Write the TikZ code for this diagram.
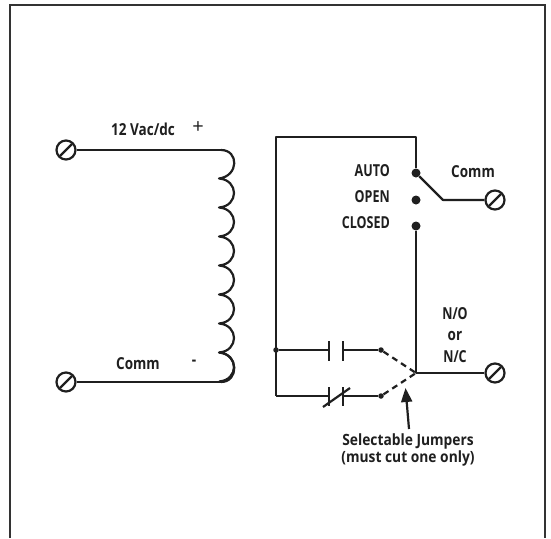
\documentclass[tikz,border=0pt]{standalone}
\usepackage{fontspec}
\usetikzlibrary{arrows.meta,calc}
\newfontfamily\labcaps[FakeStretch=0.76,BoldFont={Open Sans Bold}]{Open Sans}
\newfontfamily\labmix[FakeStretch=0.82,BoldFont={Open Sans Bold}]{Open Sans}
\newfontfamily\labnote[FakeStretch=0.89,BoldFont={Open Sans Bold}]{Open Sans}
\newfontfamily\plain{Open Sans}
\colorlet{ink}{black!88}
\tikzset{
  x=1pt,y=-1pt,
  wire/.style={draw=ink,line width=2.2pt,line join=round},
  frameline/.style={draw=black!80,line width=2.6pt},
  terminal/.style={circle,draw=ink,line width=2.2pt,minimum size=19pt,inner sep=0pt,fill=white},
  slash/.style={draw=ink,line width=2.2pt},
  dot/.style={circle,fill=ink,minimum size=9pt,inner sep=0pt},
  smalldot/.style={circle,fill=ink,minimum size=5.5pt,inner sep=0pt},
  capslabel/.style={font=\labcaps\bfseries\fontsize{16.5}{18}\selectfont,text=ink,inner sep=0pt},
  mixlabel/.style={font=\labmix\bfseries\fontsize{16.5}{18}\selectfont,text=ink,inner sep=0pt},
  notelabel/.style={font=\labnote\bfseries\fontsize{15.5}{17}\selectfont,text=ink,inner sep=0pt,align=center},
  jump/.style={draw=ink,line width=2.2pt,dash pattern=on 6pt off 4.5pt},
}
\begin{document}
\begin{tikzpicture}
\useasboundingbox (0,0) rectangle (551,538);
\fill[white] (0,0) rectangle (551,538);
% frame, open at the bottom
\coordinate (fbl) at (10,538); \coordinate (ftl) at (10,5);
\coordinate (ftr) at (545,5); \coordinate (fbr) at (545,538);
\draw[frameline] (fbl) -- (ftl) -- (ftr) -- (fbr);
% terminals
\node[terminal] (t1) at (66,150) {};
\node[terminal] (t2) at (66,382) {};
\node[terminal] (t3) at (495,200) {};
\node[terminal] (t4) at (495,373) {};
% coil
\coordinate (c0) at (221,150);
\coordinate (c8) at (221,382);
\draw[wire] (t1) -- (c0);
\draw[wire] (t2) -- (c8);
\draw[wire] (c0) .. controls (239,150) and (239,176) .. (219,178.5)
  \foreach \k in {0,...,6} { .. controls (239,{180+29*\k}) and (239,{206+29*\k}) .. (219,{207.5+29*\k}) };
\draw[wire] (219,352.5) .. controls (239,354) and (239,382) .. (c8);
% switch
\node[dot] (auto) at (416,173) {};
\node[dot] (open) at (416,200) {};
\node[dot] (closed) at (416,226) {};
\coordinate (rtl) at (276,137);
\coordinate (rtr) at (416,137);
\coordinate (rbl) at (276,396);
\coordinate (elbow) at (443,200);
\coordinate (junc) at (416,373);
\draw[wire] (auto) -- (rtr) -- (rtl) -- (rbl);
\draw[wire] (auto) -- (elbow) -- (t3);
\draw[wire] (closed) -- (junc) -- (t4);
% upper contact
\node[smalldot] (upL) at (276,350) {};
\node[smalldot] (upR) at (381,350) {};
\coordinate (upA) at (329,350); \coordinate (upB) at (343,350);
\draw[wire] (upL) -- (upA);
\draw[wire] (upB) -- (upR);
\draw[wire] (329,341) -- (329,361);
\draw[wire] (343,341) -- (343,361);
% lower contact
\node[smalldot] (loR) at (381,396) {};
\coordinate (loA) at (329,396); \coordinate (loB) at (343,396);
\draw[wire] (rbl) -- (loA);
\draw[wire] (loB) -- (loR);
\draw[wire] (329,387) -- (329,406);
\draw[wire] (343,387) -- (343,406);
\draw[wire] (323,407) -- (350,388);
% jumpers
\draw[jump] (upR) -- (junc);
\draw[jump] (loR) -- (junc);
% terminal slashes
\foreach \t in {t1,t2,t3,t4} {
  \draw[slash] ($(\t)+(-5.8,5.8)$) -- ($(\t)+(5.8,-5.8)$);
}
% arrow
\node[notelabel] (sel) at (408,449.5) {Selectable Jumpers\\(must cut one only)};
\coordinate (arrtip) at (405.5,388);
\coordinate (arrbase) at (409,429);
\draw[draw=ink,line width=2.2pt,-{Triangle[length=14pt,width=11pt]}] (arrbase) -- (arrtip);
% labels
\node[capslabel,anchor=east] (lauto) at (390,171) {AUTO};
\node[capslabel,anchor=east] (lopen) at (390,197) {OPEN};
\node[capslabel,anchor=east] (lclosed) at (390,223) {CLOSED};
\node[mixlabel] (lcomm) at (473,172) {Comm};
\node[capslabel] (lno) at (455,314) {N/O};
\node[mixlabel] (lor) at (455,336) {or};
\node[capslabel] (lnc) at (455,357) {N/C};
\node[mixlabel,anchor=west] (lv) at (111,129) {12 Vac/dc};
\node[font=\plain\fontsize{20}{20}\selectfont,text=ink,inner sep=0pt] (lplus) at (198,128) {+};
\node[mixlabel] (lcomm2) at (138,364) {Comm};
\node[mixlabel] (lminus) at (194,363) {-};
\end{tikzpicture}
\end{document}
